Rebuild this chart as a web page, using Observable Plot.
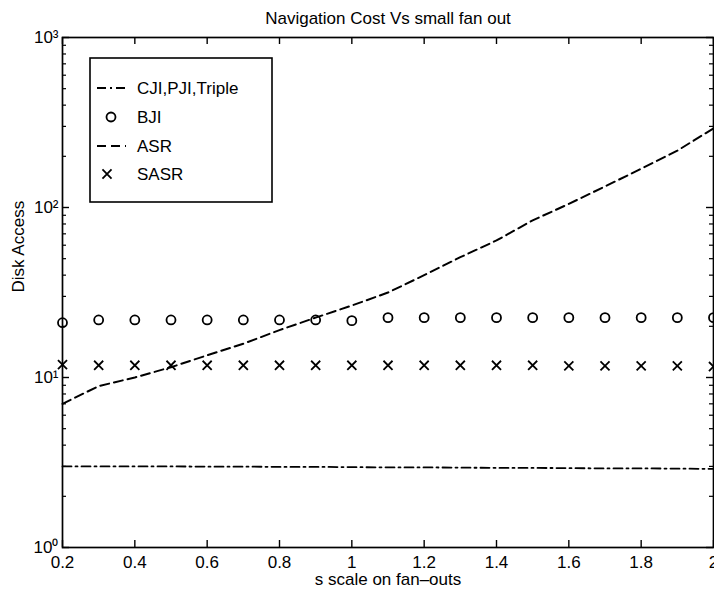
<!DOCTYPE html>
<html>
<head>
<meta charset="utf-8">
<script src="https://cdn.jsdelivr.net/npm/d3@7"></script>
<script src="https://cdn.jsdelivr.net/npm/@observablehq/plot@0.6"></script>
<style>
  html, body { margin: 0; padding: 0; background: #fff; }
  #chart { position: relative; width: 714px; height: 595px; }
</style>
</head>
<body>
<div id="chart"></div>
<script>
// s scale on fan-outs
const scales = [0.2, 0.3, 0.4, 0.5, 0.6, 0.7, 0.8, 0.9, 1.0, 1.1, 1.2, 1.3, 1.4, 1.5, 1.6, 1.7, 1.8, 1.9, 2.0];
// Disk accesses per index
const cjiPjiTriple = [3.0, 3.0, 3.0, 3.0, 2.99, 2.99, 2.98, 2.98, 2.97, 2.96, 2.96, 2.95, 2.94, 2.94, 2.93, 2.92, 2.92, 2.91, 2.9];
const bji = [21, 21.8, 21.8, 21.8, 21.8, 21.8, 21.8, 21.8, 21.6, 22.5, 22.5, 22.5, 22.5, 22.5, 22.5, 22.5, 22.5, 22.5, 22.5];
const asr = [7.0, 8.9, 10, 11.5, 13.5, 15.8, 19, 22.5, 26.5, 31.6, 40, 51, 64, 84, 105, 133, 169, 216, 292];
const sasr = [11.9, 11.8, 11.8, 11.8, 11.8, 11.8, 11.8, 11.8, 11.8, 11.8, 11.8, 11.8, 11.8, 11.8, 11.7, 11.7, 11.7, 11.7, 11.6];

const xTicks = [0.2, 0.4, 0.6, 0.8, 1, 1.2, 1.4, 1.6, 1.8, 2];
const yMajor = [1, 10, 100, 1000];
const yMinor = [2, 3, 4, 5, 6, 7, 8, 9, 20, 30, 40, 50, 60, 70, 80, 90, 200, 300, 400, 500, 600, 700, 800, 900];
const supers = {0: "⁰", 1: "¹", 2: "²", 3: "³"};

const legendItems = ["CJI,PJI,Triple", "BJI", "ASR", "SASR"];

const rows = scales.map((s, i) => ({s, cji: cjiPjiTriple[i], bji: bji[i], asr: asr[i], sasr: sasr[i]}));

const W = 714, H = 595;
const mt = 37, mb = 48, ml = 62, mr = 1;
const fw = W - ml - mr, fh = H - mt - mb;
const major = 7, minor = 4;
const font = "'Liberation Sans', Arial, Helvetica, sans-serif";

const chart = Plot.plot({
  width: W,
  height: H,
  marginTop: mt,
  marginBottom: mb,
  marginLeft: ml,
  marginRight: mr,
  style: {fontFamily: font, fontSize: "17px", color: "#000", background: "#fff"},
  x: {domain: [0.2, 2]},
  y: {type: "log", domain: [1, 1000]},
  marks: [
    // inward ticks on all four sides
    Plot.tickX(xTicks, {x: d => d, insetTop: fh - major, stroke: "#000", strokeWidth: 1.4}),
    Plot.tickX(xTicks, {x: d => d, insetBottom: fh - major, stroke: "#000", strokeWidth: 1.4}),
    Plot.tickY(yMajor, {y: d => d, insetRight: fw - major, stroke: "#000", strokeWidth: 1.4}),
    Plot.tickY(yMajor, {y: d => d, insetLeft: fw - major, stroke: "#000", strokeWidth: 1.4}),
    Plot.tickY(yMinor, {y: d => d, insetRight: fw - minor, stroke: "#000", strokeWidth: 1.2}),
    Plot.tickY(yMinor, {y: d => d, insetLeft: fw - minor, stroke: "#000", strokeWidth: 1.2}),
    Plot.axisX(xTicks, {tickSize: 0, tickPadding: 8, tickFormat: d3.format("~g"), label: null, fill: "#000"}),
    Plot.axisY(yMajor, {tickSize: 0, tickPadding: 4, tickFormat: d => "10" + supers[Math.round(Math.log10(d))], label: null, fill: "#000"}),
    // series
    Plot.line(rows, {x: "s", y: "cji", stroke: "#000", strokeWidth: 1.8, strokeDasharray: "9,4,2,4"}),
    Plot.line(rows, {x: "s", y: "asr", stroke: "#000", strokeWidth: 2, strokeDasharray: "9,5"}),
    Plot.dot(rows, {x: "s", y: "bji", r: 4.5, stroke: "#000", strokeWidth: 1.8}),
    Plot.dot(rows, {x: "s", y: "sasr", symbol: "times", r: 4.2, stroke: "#000", strokeWidth: 1.8}),
    Plot.frame({stroke: "#000", strokeWidth: 1.7}),
    // titles
    Plot.text(["Navigation Cost Vs small fan out"], {frameAnchor: "top", lineAnchor: "middle", dy: -19, text: d => d, fill: "#000"}),
    Plot.text(["s scale on fan–outs"], {frameAnchor: "bottom", lineAnchor: "middle", dy: 32, text: d => d, fill: "#000"}),
    Plot.text(["Disk Access"], {frameAnchor: "left", lineAnchor: "middle", dx: -44, rotate: -90, text: d => d, fill: "#000"})
  ]
});

// legend box
const svg = d3.select(chart);
const lg = svg.append("g")
  .attr("font-family", font)
  .attr("font-size", 17)
  .attr("text-anchor", "start");
lg.append("rect").attr("x", 90).attr("y", 58).attr("width", 182).attr("height", 144)
  .attr("fill", "#fff").attr("stroke", "#000").attr("stroke-width", 1.6);
const rowY = [88, 117, 146, 174];
lg.append("line").attr("x1", 97).attr("x2", 126).attr("y1", rowY[0]).attr("y2", rowY[0])
  .attr("stroke", "#000").attr("stroke-width", 1.8).attr("stroke-dasharray", "9,4,2,4");
lg.append("circle").attr("cx", 111).attr("cy", rowY[1]).attr("r", 4.5)
  .attr("fill", "none").attr("stroke", "#000").attr("stroke-width", 1.8);
lg.append("line").attr("x1", 97).attr("x2", 126).attr("y1", rowY[2]).attr("y2", rowY[2])
  .attr("stroke", "#000").attr("stroke-width", 2).attr("stroke-dasharray", "9,5");
lg.append("path").attr("d", d3.symbol(d3.symbolTimes, 4.2 * 4.2 * Math.PI)())
  .attr("transform", `translate(107,${rowY[3]})`)
  .attr("fill", "none").attr("stroke", "#000").attr("stroke-width", 1.8);
legendItems.forEach((t, i) => {
  lg.append("text").attr("x", 137).attr("y", rowY[i]).attr("dy", "0.35em").attr("fill", "#000").text(t);
});

document.getElementById("chart").appendChild(chart);
</script>
</body>
</html>
